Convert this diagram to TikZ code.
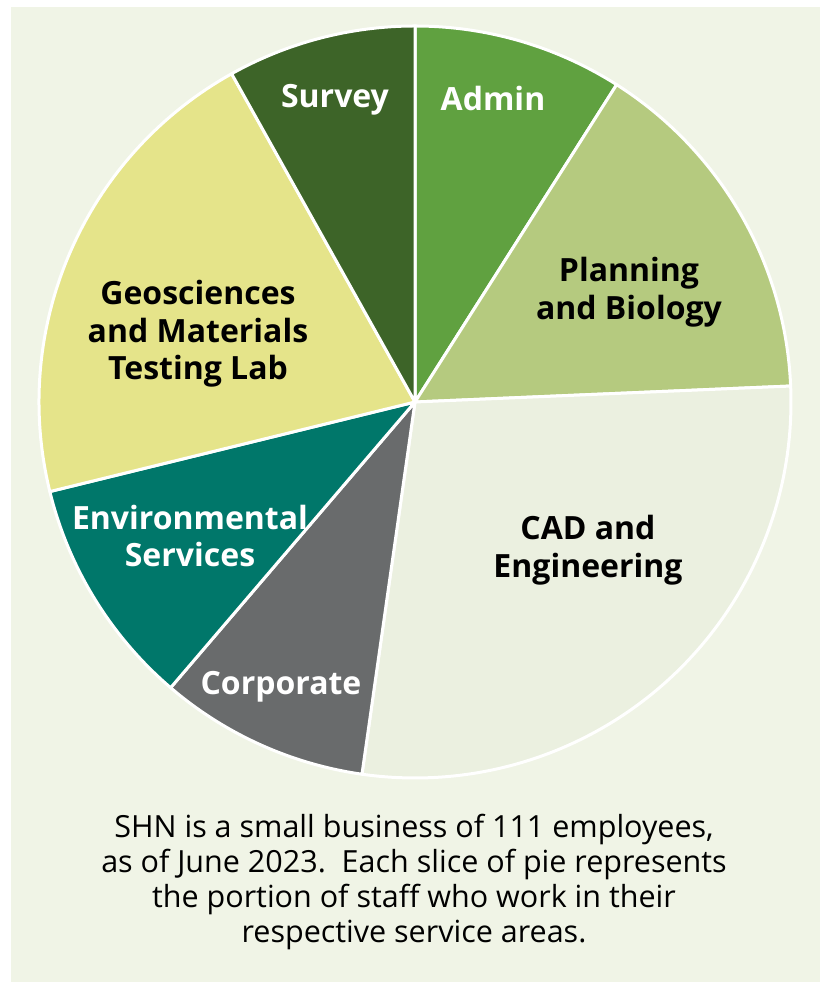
\documentclass[tikz,border=0pt]{standalone}
\usepackage{fontspec}
\setmainfont{Open Sans}

\definecolor{bggreen}{HTML}{F0F4E6}
\definecolor{surveygreen}{HTML}{3D6428}
\definecolor{admingreen}{HTML}{60A140}
\definecolor{planninggreen}{HTML}{B5CA7F}
\definecolor{cadgreen}{HTML}{EBF0E0}
\definecolor{corporategrey}{HTML}{696B6C}
\definecolor{envteal}{HTML}{00776A}
\definecolor{geoyellow}{HTML}{E5E48A}

\tikzset{
  slice/.style={draw=white, line width=3pt, line join=round},
  darklabel/.style={font=\bfseries\fontsize{32}{37.5}\selectfont, align=center, text=black},
  lightlabel/.style={darklabel, text=white},
  caption/.style={font=\fontsize{30.5}{35.3}\selectfont, align=center, text=black}
}

\begin{document}
\begin{tikzpicture}[x=1pt,y=1pt]

\useasboundingbox (0,0) rectangle (828,983);
\fill[bggreen] (11,1) rectangle (820,976);

\coordinate (c) at (415,581);

% Admin, 10
\filldraw[slice, fill=admingreen] (c) -- ++(90:376) arc[start angle=90, end angle=57.568, radius=376] -- cycle;
% Planning, 17
\filldraw[slice, fill=planninggreen] (c) -- ++(57.568:376) arc[start angle=57.568, end angle=2.432, radius=376] -- cycle;
% CAD, 31
\filldraw[slice, fill=cadgreen] (c) -- ++(2.432:376) arc[start angle=2.432, end angle=-98.108, radius=376] -- cycle;
% Corporate, 10
\filldraw[slice, fill=corporategrey] (c) -- ++(-98.108:376) arc[start angle=-98.108, end angle=-130.541, radius=376] -- cycle;
% Environmental, 11
\filldraw[slice, fill=envteal] (c) -- ++(-130.541:376) arc[start angle=-130.541, end angle=-166.216, radius=376] -- cycle;
% Geosciences, 23
\filldraw[slice, fill=geoyellow] (c) -- ++(-166.216:376) arc[start angle=-166.216, end angle=-240.811, radius=376] -- cycle;
% Survey, 9
\filldraw[slice, fill=surveygreen] (c) -- ++(-240.811:376) arc[start angle=-240.811, end angle=-270, radius=376] -- cycle;

\node [lightlabel] (survey) at (335,883) {Survey};
\node [lightlabel] (admin) at (493,884) {Admin};
\node [darklabel] (planning) at (629,691) {Planning\\and Biology};
\node [darklabel] (cad) at (588,433) {CAD and\\Engineering};
\node [lightlabel] (corporate) at (281,296) {Corporate};
\node [lightlabel] (env) at (190,447) {Environmental\\Services};
\node [darklabel] (geo) at (198,649) {Geosciences\\and Materials\\Testing Lab};

\node [caption] (note) at (414,101) {SHN is a small business of 111 employees,\\as of June 2023.\ \ Each slice of pie represents\\the portion of staff who work in their\\respective service areas.};

\end{tikzpicture}
\end{document}
